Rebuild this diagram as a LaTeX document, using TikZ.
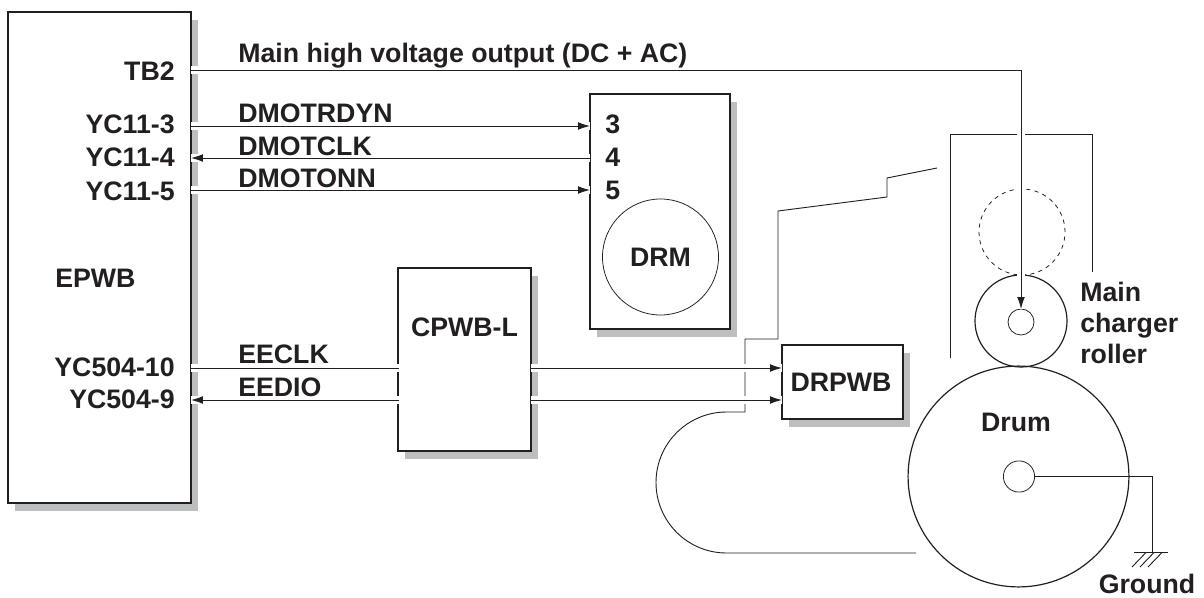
\documentclass[tikz,border=0pt]{standalone}
\usepackage{fontspec}
\setmainfont{Liberation Sans}
\usepackage{xcolor}
\usetikzlibrary{arrows.meta, shadows}
\definecolor{inkdark}{HTML}{231F20}
\definecolor{shadowgray}{HTML}{BCBEC0}
\tikzset{
    pwbbox/.style={rectangle, draw=inkdark, line width=0.9pt, fill=white, inner sep=0pt, outer sep=0pt,
        drop shadow={shadow xshift=0.18cm, shadow yshift=-0.19cm, fill=shadowgray, opacity=1}},
    lbl/.style={font=\bfseries\fontsize{19}{22}\selectfont, text=inkdark, inner sep=0pt, text height=13.7pt, text depth=0pt},
    wire/.style={draw=inkdark, line width=0.65pt, preaction={draw=white, line width=5pt, -}},
    sigarrow/.style={wire, -{Latex[length=8.5pt, width=5.5pt]}},
    thinline/.style={draw=inkdark, line width=0.65pt},
    rollcircle/.style={circle, draw=inkdark, line width=0.85pt, inner sep=0pt, outer sep=0pt},
    axlecircle/.style={circle, draw=inkdark, line width=0.55pt, inner sep=0pt, outer sep=0pt}
}
\begin{document}
\begin{tikzpicture}[x=0.025cm, y=-0.025cm]
    \useasboundingbox (0,0) rectangle (1204,598);

    % boards
    \node (EPWB) at (99.5,257.5) [pwbbox, minimum width=4.575cm, minimum height=12.275cm] {};
    \node (CPWB) at (464.5,359.5) [pwbbox, minimum width=3.325cm, minimum height=4.575cm] {};
    \node (DRM) at (660,211.5) [pwbbox, minimum width=3.5cm, minimum height=5.875cm] {};
    \node (DRPWB) at (842.5,382) [pwbbox, minimum width=3.025cm, minimum height=1.85cm] {};
    \node (DRMmotor) at (660.5,257) [axlecircle, minimum size=2.9cm] {};

    % charger housing
    \draw [thinline] (950,358) -- (950,134) -- (1092,134) -- (1092,272);
    \draw [thinline] (937,168) -- (887,178) -- (887,197) -- (778,211) -- (778,339) -- (745,339) -- (745,412) -- (726.5,412)
        arc [start angle=-90, end angle=-270, radius=70.5] -- (916,553);

    % rollers
    \node (Home) at (1022,232) [circle, draw=inkdark, line width=0.55pt, dashed, inner sep=0pt, minimum size=2.15cm] {};
    \node (Roller) at (1021,321) [rollcircle, minimum size=2.3cm] {};
    \node (RollerAxle) at (1021,322) [axlecircle, minimum size=0.65cm] {};
    \node (Drum) at (1018.5,476.5) [rollcircle, minimum size=5.52cm] {};
    \node (DrumAxle) at (1019,476.5) [axlecircle, minimum size=0.78cm] {};

    % pins
    \coordinate (TB2pin) at (191,70);
    \coordinate (TB2bend) at (1021,70);
    \coordinate (Y3) at (191,126);
    \coordinate (Y4) at (191,158);
    \coordinate (Y5) at (191,190);
    \coordinate (D3) at (590,126);
    \coordinate (D4) at (590,158);
    \coordinate (D5) at (590,190);
    \coordinate (Y10) at (191,368);
    \coordinate (Y9) at (191,400);
    \coordinate (Cin) at (399,368);
    \coordinate (Cio) at (399,400);
    \coordinate (Cout1) at (530.5,368);
    \coordinate (Cout2) at (530.5,400);
    \coordinate (R1) at (782,368);
    \coordinate (R2) at (782,400);
    \coordinate (GndTop) at (1152,476.5);
    \coordinate (Gnd) at (1152,552.5);

    % signals
    \draw [sigarrow] (TB2pin) -- (TB2bend) -- (RollerAxle.north);
    \draw [sigarrow] (Y3) -- (D3);
    \draw [sigarrow] (D4) -- (Y4);
    \draw [sigarrow] (Y5) -- (D5);
    \draw [wire] (Y10) -- (Cin);
    \draw [sigarrow] (Cio) -- (Y9);
    \draw [sigarrow] (Cout1) -- (R1);
    \draw [sigarrow] (Cout2) -- (R2);

    % ground
    \draw [thinline] (DrumAxle.east) -- (GndTop) -- (Gnd);
    \draw [thinline] (1134,552.5) -- (1168,552.5);
    \foreach \gx in {1146,1154,1162}
        \draw [thinline] (\gx,552.5) -- (\gx-14,567);

    % labels
    \node (lTB2) at (175,71) [lbl, anchor=east] {TB2};
    \node (lY3) at (175,124) [lbl, anchor=east] {YC11-3};
    \node (lY4) at (175,157) [lbl, anchor=east] {YC11-4};
    \node (lY5) at (175,191) [lbl, anchor=east] {YC11-5};
    \node (lEPWB) at (55,278) [lbl, anchor=west] {EPWB};
    \node (lY10) at (175,367) [lbl, anchor=east] {YC504-10};
    \node (lY9) at (175,399) [lbl, anchor=east] {YC504-9};
    \node (lMain) at (238,53) [lbl, anchor=west] {Main high voltage output (DC + AC)};
    \node (lRDY) at (238,113) [lbl, anchor=west] {DMOTRDYN};
    \node (lCLK) at (238,146) [lbl, anchor=west] {DMOTCLK};
    \node (lONN) at (238,178) [lbl, anchor=west] {DMOTONN};
    \node (lEECLK) at (238,354) [lbl, anchor=west] {EECLK};
    \node (lEEDIO) at (238,387) [lbl, anchor=west] {EEDIO};
    \node (l3) at (605,124) [lbl, anchor=west] {3};
    \node (l4) at (605,157) [lbl, anchor=west] {4};
    \node (l5) at (605,190) [lbl, anchor=west] {5};
    \node (lDRM) at (660.5,257) [lbl] {DRM};
    \node (lCPWB) at (464.5,327) [lbl] {CPWB-L};
    \node (lDRPWB) at (841,382) [lbl] {DRPWB};
    \node (lDrum) at (1016,422) [lbl] {Drum};
    \node (lGround) at (1147,584) [lbl] {Ground};
    \node (lChg1) at (1080,292) [lbl, anchor=west] {Main};
    \node (lChg2) at (1080,323) [lbl, anchor=west] {charger};
    \node (lChg3) at (1080,354) [lbl, anchor=west] {roller};
\end{tikzpicture}
\end{document}
